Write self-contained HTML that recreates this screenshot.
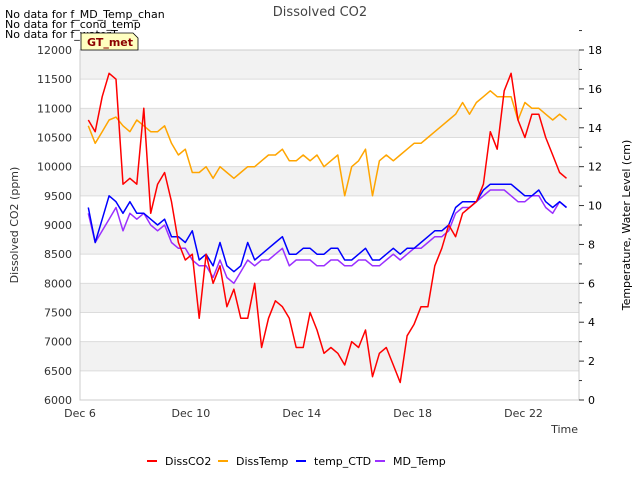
<!DOCTYPE html>
<html><head><meta charset="utf-8"><style>
body{margin:0;background:#fff;font-family:"Liberation Sans","DejaVu Sans",sans-serif}
svg text{font-family:"DejaVu Sans","Liberation Sans",sans-serif}
</style></head><body>
<svg id="c" width="640" height="480" xmlns="http://www.w3.org/2000/svg"></svg>
<script>
const days=[];for(let i=0;i<70;i++)days.push(+(6.3+i*0.25).toFixed(2));
const dissCO2=[10800,10600,11200,11600,11500,9700,9800,9700,11000,9200,9700,9900,9400,8700,8400,8500,7400,8500,8000,8300,7600,7900,7400,7400,8000,6900,7400,7700,7600,7400,6900,6900,7500,7200,6800,6900,6800,6600,7000,6900,7200,6400,6800,6900,6600,6300,7100,7300,7600,7600,8300,8600,9000,8800,9200,9300,9400,9700,10600,10300,11300,11600,10800,10500,10900,10900,10500,10200,9900,9800];
const dissTemp=[14.1,13.2,13.8,14.4,14.55,14.1,13.8,14.4,14.1,13.8,13.8,14.1,13.2,12.6,12.9,11.7,11.7,12.0,11.4,12.0,11.7,11.4,11.7,12.0,12.0,12.3,12.6,12.6,12.9,12.3,12.3,12.6,12.3,12.6,12.0,12.3,12.6,10.5,12.0,12.3,12.9,10.5,12.3,12.6,12.3,12.6,12.9,13.2,13.2,13.5,13.8,14.1,14.4,14.7,15.3,14.7,15.3,15.6,15.9,15.6,15.6,15.6,14.4,15.3,15.0,15.0,14.7,14.4,14.7,14.4];
const tempCTD=[9.9,8.1,9.3,10.5,10.2,9.6,10.2,9.6,9.6,9.3,9.0,9.3,8.4,8.4,8.1,8.7,7.2,7.5,6.9,8.1,6.9,6.6,6.9,8.1,7.2,7.5,7.8,8.1,8.4,7.5,7.5,7.8,7.8,7.5,7.5,7.8,7.8,7.2,7.2,7.5,7.8,7.2,7.2,7.5,7.8,7.5,7.8,7.8,8.1,8.4,8.7,8.7,9.0,9.9,10.2,10.2,10.2,10.8,11.1,11.1,11.1,11.1,10.8,10.5,10.5,10.8,10.2,9.9,10.2,9.9];
const mdTemp=[9.6,8.1,8.7,9.3,9.9,8.7,9.6,9.3,9.6,9.0,8.7,9.0,8.1,7.8,7.8,7.2,6.9,6.9,6.3,7.2,6.3,6.0,6.6,7.2,6.9,7.2,7.2,7.5,7.8,6.9,7.2,7.2,7.2,6.9,6.9,7.2,7.2,6.9,6.9,7.2,7.2,6.9,6.9,7.2,7.5,7.2,7.5,7.8,7.8,8.1,8.4,8.4,8.7,9.6,9.9,9.9,10.2,10.5,10.8,10.8,10.8,10.5,10.2,10.2,10.5,10.5,9.9,9.6,10.2,9.9];
const leftTicks=[6000,6500,7000,7500,8000,8500,9000,9500,10000,10500,11000,11500,12000];
const rightTicks=[0,2,4,6,8,10,12,14,16,18];
const xTicks=[6,10,14,18,22];
const xLabels=["Dec 6","Dec 10","Dec 14","Dec 18","Dec 22"];
const L=80,R=579,T=50,B=400;
const X=d=>L+(d-6)*(R-L)/18;
const YL=v=>B-(v-6000)*(B-T)/6000;
const YR=v=>B-v*(B-T)/18;
const svg=document.getElementById('c');const NS='http://www.w3.org/2000/svg';
function mk(tag,attrs,parent){const e=document.createElementNS(NS,tag);for(const k in attrs)e.setAttribute(k,attrs[k]);(parent||svg).appendChild(e);return e;}
function txt(s,attrs){const e=mk('text',attrs);e.textContent=s;return e;}
for(let i=0;i<leftTicks.length-1;i++){
 const r=mk('rect',{x:L,y:YL(leftTicks[i+1]),width:R-L,height:YL(leftTicks[i])-YL(leftTicks[i+1]),fill:(i%2==1)?'#f2f2f2':'#fff'});
 
 
}
leftTicks.forEach(v=>{
 const g=mk('line',{x1:L,x2:R,y1:YL(v),y2:YL(v),stroke:'#dcdcdc','stroke-width':1});
 
 
 const t=txt(v,{x:L-8,y:YL(v)+4,'text-anchor':'end','font-size':11,fill:'#333'});
 
 
});
mk('rect',{x:L,y:T,width:R-L,height:B-T,fill:'none',stroke:'#ccc'});
rightTicks.forEach(v=>{
 mk('line',{x1:R,x2:R+5,y1:YR(v),y2:YR(v),stroke:'#333'});
 mk('line',{x1:R,x2:R+3,y1:YR(v+1),y2:YR(v+1),stroke:'#333'});
 const t=txt(v,{x:R+9,y:YR(v)+4,'font-size':11,fill:'#000'});
 
 
});
xTicks.forEach((d,i)=>{
 const t=txt(xLabels[i],{x:X(d),y:417,'text-anchor':'middle','font-size':11,fill:'#333'});
 
 
});
function series(vals,fy,color,name){
 const p=mk('polyline',{points:vals.map((v,i)=>X(days[i]).toFixed(1)+','+fy(v).toFixed(1)).join(' '),fill:'none',stroke:color,'stroke-width':1.5,'stroke-linejoin':'round'});
 
 
}
series(mdTemp,YR,'#9b30ff','md-temp-line');
series(tempCTD,YR,'#0000ff','temp-ctd-line');
series(dissTemp,YR,'#ffa500','diss-temp-line');
series(dissCO2,YL,'#ff0000','diss-co2-line');
let t;
t=txt('Dissolved CO2',{x:320,y:16,'text-anchor':'middle','font-size':13,fill:'#444'});
t=txt('Time',{x:578,y:433,'text-anchor':'end','font-size':11,fill:'#333'});
t=txt('Dissolved CO2 (ppm)',{x:0,y:0,'text-anchor':'middle','font-size':11,fill:'#333',transform:'translate(18,225) rotate(-90)'});
t=txt('Temperature, Water Level (cm)',{x:0,y:0,'text-anchor':'middle','font-size':11,fill:'#000',transform:'translate(630,225) rotate(-90)'});
['No data for f_MD_Temp_chan','No data for f_cond_temp','No data for f_waterT'].forEach((s,i)=>{const e=txt(s,{x:5,y:18+i*10,'font-size':11,fill:'#000'});});
const b=mk('path',{d:'M81,33 L133,33 L138,38 L138,50 L81,50 Z',fill:'#ffffc0',stroke:'#000','stroke-width':0.8});
t=txt('GT_met',{x:87,y:46,'font-size':11,'font-weight':'bold',fill:'#8b0000'});
const leg=[['DissCO2','#ff0000',147],['DissTemp','#ffa500',218],['temp_CTD','#0000ff',296],['MD_Temp','#9b30ff',375]];
leg.forEach(([n,c,x])=>{
 const g=mk('g',{});
 mk('line',{x1:x,x2:x+10,y1:461,y2:461,stroke:c,'stroke-width':2},g);
 const e=mk('text',{x:x+18,y:465,'font-size':11,fill:'#000'},g);e.textContent=n;
});
</script>
</body></html>
